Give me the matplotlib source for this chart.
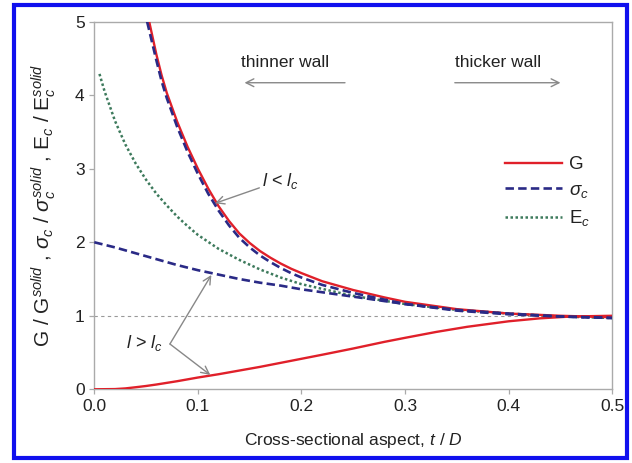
import matplotlib
matplotlib.use("Agg")
import matplotlib.pyplot as plt
from matplotlib.patches import Rectangle

plt.rcParams['font.family'] = ['Liberation Sans', 'DejaVu Sans']
plt.rcParams['mathtext.fontset'] = 'custom'
plt.rcParams['mathtext.rm'] = 'Liberation Sans'
plt.rcParams['mathtext.it'] = 'Liberation Sans:italic'

# G, thin-wall branch (l < lc)
g_hi_x = [0.053, 0.06, 0.065, 0.07, 0.08, 0.09, 0.10, 0.11, 0.12, 0.13,
          0.14, 0.15, 0.16, 0.17, 0.18, 0.19, 0.20, 0.22, 0.25, 0.28,
          0.30, 0.35, 0.40, 0.45, 0.50]
g_hi_y = [5.0, 4.55, 4.27, 4.03, 3.64, 3.30, 3.0, 2.73, 2.49, 2.29,
          2.12, 1.99, 1.88, 1.79, 1.71, 1.64, 1.58, 1.47, 1.35, 1.25,
          1.19, 1.09, 1.03, 1.0, 0.98]

# sigma_c, l < lc
s_hi_x = [0.051, 0.06, 0.065, 0.07, 0.08, 0.09, 0.10, 0.11, 0.12, 0.13,
          0.14, 0.15, 0.16, 0.17, 0.18, 0.19, 0.20, 0.22, 0.25, 0.28,
          0.30, 0.35, 0.40, 0.45, 0.50]
s_hi_y = [5.0, 4.47, 4.19, 3.96, 3.57, 3.23, 2.93, 2.66, 2.43, 2.23,
          2.06, 1.93, 1.82, 1.73, 1.65, 1.58, 1.52, 1.42, 1.31, 1.22,
          1.16, 1.07, 1.02, 0.99, 0.97]

# E_c
e_x = [0.005, 0.01, 0.02, 0.03, 0.04, 0.05, 0.06, 0.07, 0.08, 0.09,
       0.10, 0.12, 0.14, 0.16, 0.18, 0.20, 0.25, 0.30, 0.35, 0.40,
       0.45, 0.50]
e_y = [4.29, 4.05, 3.65, 3.33, 3.07, 2.85, 2.66, 2.50, 2.35, 2.22,
       2.10, 1.91, 1.76, 1.63, 1.52, 1.43, 1.27, 1.16, 1.08, 1.03,
       0.99, 0.97]

# sigma_c, l > lc
s_lo_x = [0.0, 0.02, 0.04, 0.06, 0.08, 0.10, 0.12, 0.14, 0.16, 0.18,
          0.20, 0.22, 0.25, 0.28, 0.30, 0.35, 0.40, 0.45, 0.50]
s_lo_y = [2.0, 1.93, 1.85, 1.77, 1.69, 1.62, 1.56, 1.50, 1.45, 1.41,
          1.36, 1.32, 1.26, 1.20, 1.16, 1.08, 1.03, 0.99, 0.97]

# G, l > lc
g_lo_x = [0.0, 0.02, 0.03, 0.04, 0.05, 0.06, 0.08, 0.10, 0.12, 0.14,
          0.16, 0.18, 0.20, 0.22, 0.25, 0.28, 0.30, 0.33, 0.36, 0.40,
          0.43, 0.46, 0.50]
g_lo_y = [0.0, 0.003, 0.012, 0.028, 0.045, 0.065, 0.11, 0.16, 0.205, 0.255,
          0.305, 0.36, 0.415, 0.47, 0.555, 0.645, 0.70, 0.78, 0.85, 0.925,
          0.965, 0.99, 1.0]

x_ticks = [0.0, 0.1, 0.2, 0.3, 0.4, 0.5]
y_ticks = [0, 1, 2, 3, 4, 5]

red = '#e0202a'
navy = '#2a2a86'
green = '#3d7a5c'
grey = '#999999'

fig = plt.figure(figsize=(6.32, 4.63), dpi=100)
ax = fig.add_axes([0.1492, 0.1592, 0.8196, 0.7939])

ax.axhline(1.0, color=grey, lw=0.8, ls=(0, (3, 3)), zorder=1)

ax.plot(g_hi_x, g_hi_y, color=red, lw=1.7, label='G', zorder=3)
ax.plot(s_hi_x, s_hi_y, color=navy, lw=1.9, ls=(0, (3.2, 1.6)),
        label=r'$\sigma_c$', zorder=4)
ax.plot(e_x, e_y, color=green, lw=1.8, ls=(0, (1, 1)),
        label=r'E$_{\mathit{c}}$', zorder=2)
ax.plot(s_lo_x, s_lo_y, color=navy, lw=1.9, ls=(0, (3.2, 1.6)), zorder=4)
ax.plot(g_lo_x, g_lo_y, color=red, lw=1.7, zorder=3)

ax.set_xlim(0, 0.5)
ax.set_ylim(0, 5)
ax.set_xticks(x_ticks)
ax.set_xticklabels([f'{v:.1f}' for v in x_ticks])
ax.set_yticks(y_ticks)
for s in ax.spines.values():
    s.set_color('#aaaaaa')
    s.set_linewidth(1.0)
ax.tick_params(colors='#aaaaaa', labelcolor='#222222', labelsize=12.5,
               length=3.5, width=0.9)

ax.set_xlabel(r'Cross-sectional aspect, $\mathit{t}$ / $\mathit{D}$',
              fontsize=12.5, color='#222222', labelpad=12)
ax.set_ylabel(r'G / G$^{\mathit{solid}}$ , $\sigma_c$ / $\sigma_c^{\mathit{solid}}$ , '
              r'E$_{\mathit{c}}$ / E$_{\mathit{c}}^{\mathit{solid}}$',
              fontsize=15, color='#222222', labelpad=12)

leg = ax.legend(loc='upper left', bbox_to_anchor=(0.761, 0.68), frameon=False,
                fontsize=13.5, handlelength=3.0, handletextpad=0.4,
                labelspacing=0.45)
for t in leg.get_texts():
    t.set_color('#222222')

# wall annotations
arrow_kw = dict(arrowstyle='->', color='#888888', lw=1.0,
                mutation_scale=14, shrinkA=0, shrinkB=0)
ax.text(0.142, 4.44, 'thinner wall', fontsize=12.5, color='#222222',
        va='center', ha='left')
ax.annotate('', xy=(0.145, 4.17), xytext=(0.242, 4.17), arrowprops=arrow_kw)
ax.text(0.348, 4.44, 'thicker wall', fontsize=12.5, color='#222222',
        va='center', ha='left')
ax.annotate('', xy=(0.450, 4.17), xytext=(0.348, 4.17), arrowprops=arrow_kw)

# branch annotations
ax.annotate(r'$\mathit{l}$ < $\mathit{l_c}$', xy=(0.1166, 2.53),
            xytext=(0.162, 2.84), fontsize=13, color='#222222',
            va='center', ha='left', arrowprops=arrow_kw)
ax.text(0.031, 0.63, r'$\mathit{l}$ > $\mathit{l_c}$', fontsize=13,
        color='#222222', va='center', ha='left')
ax.annotate('', xy=(0.113, 1.555), xytext=(0.073, 0.616), arrowprops=arrow_kw)
ax.annotate('', xy=(0.112, 0.195), xytext=(0.073, 0.616), arrowprops=arrow_kw)

# blue frame round the figure
fig.patches.append(Rectangle((13.5 / 632, 5 / 463), 613.5 / 632, 453.5 / 463,
                             transform=fig.transFigure, fill=False,
                             edgecolor='#1010ee', lw=3.0, zorder=10))

fig.savefig('out.png', dpi=100)
